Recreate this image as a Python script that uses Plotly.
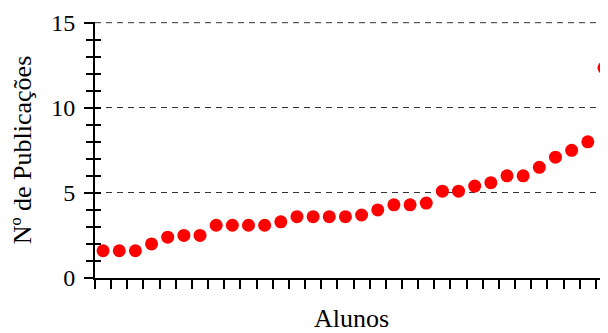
import plotly.graph_objects as go

alunos = [str(i) for i in range(1, 33)]
publicacoes = [1.6, 1.6, 1.6, 2.0, 2.4, 2.5, 2.5, 3.1, 3.1, 3.1, 3.1, 3.3, 3.6, 3.6, 3.6, 3.6,
               3.7, 4.0, 4.3, 4.3, 4.4, 5.1, 5.1, 5.4, 5.6, 6.0, 6.0, 6.5, 7.1, 7.5, 8.0, 12.35]
y_ticks = [0, 5, 10, 15]

FONT = "Liberation Serif"
GRID = dict(color="#333333", width=1, dash="6px,5px")

fig = go.Figure()
fig.add_trace(go.Scatter(x=alunos, y=publicacoes, mode="markers",
                         marker=dict(color="#FF0000", size=13, line=dict(width=0)),
                         cliponaxis=True, showlegend=False))
# invisible trace on second y-axis so its inside ticks get drawn
fig.add_trace(go.Scatter(x=alunos, y=publicacoes, mode="markers", yaxis="y2",
                         marker=dict(opacity=0), showlegend=False, hoverinfo="skip"))

# top gridline (at the upper edge of the plot, which plotly omits)
fig.add_shape(type="line", xref="paper", x0=0, x1=1, yref="y", y0=y_ticks[-1], y1=y_ticks[-1],
              line=GRID, layer="below")

# page body has an 8px margin: figure is offset by 8px right and down
fig.update_layout(
    width=600, height=325,
    margin=dict(l=87, r=0, t=14, b=55, autoexpand=False),
    paper_bgcolor="white", plot_bgcolor="white",
    font=dict(family=FONT, size=24, color="black"),
    xaxis=dict(
        type="category", range=[-0.5, 31.25],
        tickson="boundaries", ticks="outside", ticklen=9, tickwidth=2, tickcolor="black",
        showticklabels=False, showgrid=False, zeroline=False,
        showline=True, linecolor="black", linewidth=2, automargin=False,
        title=dict(text="Alunos", font=dict(family=FONT, size=26), standoff=39),
    ),
    yaxis=dict(
        range=[0, 15.04], tickvals=y_ticks, ticks="outside", ticklen=9, tickwidth=2,
        tickcolor="black",
        minor=dict(dtick=1, ticks="outside", ticklen=7, tickwidth=2, tickcolor="black",
                   showgrid=False),
        showgrid=True, gridcolor=GRID["color"], gridwidth=1, griddash=GRID["dash"],
        zeroline=False, showline=True, linecolor="black", linewidth=2,
        ticklabelstandoff=4, automargin=False,
        title=dict(text="Nº de Publicações", font=dict(family=FONT, size=26), standoff=12),
    ),
    yaxis2=dict(
        range=[0, 15.04], overlaying="y", side="left", anchor="x",
        tickvals=y_ticks, ticks="inside", ticklen=6, tickwidth=2, tickcolor="black",
        minor=dict(dtick=1, ticks="inside", ticklen=6, tickwidth=2, tickcolor="black"),
        showticklabels=False, showgrid=False, zeroline=False, showline=False,
    ),
)

fig.write_html("out.html")
